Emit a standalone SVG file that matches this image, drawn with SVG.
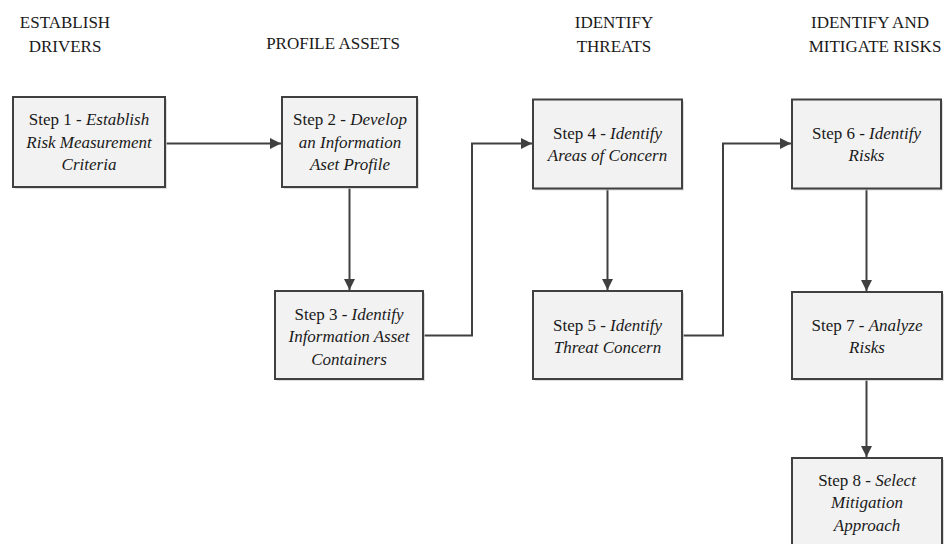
<svg xmlns="http://www.w3.org/2000/svg" width="947" height="544" viewBox="0 0 947 544" font-family="Liberation Serif, Times New Roman, serif">
<style>
  .bg{fill:#ffffff}
  .box{fill:#f2f2f2;stroke:#404040;stroke-width:2}
  .shadow{fill:#cfcfcf;opacity:0.7}
  text{font-size:17px;fill:#1a1a1a;text-anchor:middle}
  .i{font-style:italic}
  .conn{fill:none;stroke:#404040;stroke-width:2}
</style>
<defs>
  <marker id="arr" markerUnits="userSpaceOnUse" markerWidth="12" markerHeight="11" refX="11" refY="5.5" orient="auto">
    <path d="M0,0 L11,5.5 L0,11 z" fill="#404040"/>
  </marker>
</defs>
<rect class="bg" x="0" y="0" width="947" height="544"/>

<g id="headers">
  <text x="65" y="28">ESTABLISH</text>
  <text x="65" y="52">DRIVERS</text>
  <text x="333" y="49">PROFILE ASSETS</text>
  <text x="614" y="28">IDENTIFY</text>
  <text x="614" y="52">THREATS</text>
  <text x="870" y="28">IDENTIFY AND</text>
  <text x="875" y="52">MITIGATE RISKS</text>
</g>

<g id="connectors">
  <path class="conn" d="M165,143.5 H281" marker-end="url(#arr)"/>
  <path class="conn" d="M349.5,187 V290" marker-end="url(#arr)"/>
  <path class="conn" d="M423,335.5 H472 V143.5 H532" marker-end="url(#arr)"/>
  <path class="conn" d="M607.5,189 V290" marker-end="url(#arr)"/>
  <path class="conn" d="M682,335.5 H723 V143.5 H791" marker-end="url(#arr)"/>
  <path class="conn" d="M866.5,189 V291" marker-end="url(#arr)"/>
  <path class="conn" d="M866.5,379 V457" marker-end="url(#arr)"/>
</g>

<g id="step1">
  <rect class="shadow" x="15" y="99" width="152" height="90"/>
  <rect class="box" x="13" y="97" width="152" height="90"/>
  <text x="89" y="125">Step 1 - <tspan class="i">Establish</tspan></text>
  <text class="i" x="89" y="148">Risk Measurement</text>
  <text class="i" x="89" y="170">Criteria</text>
</g>

<g id="step2">
  <rect class="shadow" x="284" y="99" width="135" height="90"/>
  <rect class="box" x="282" y="97" width="135" height="90"/>
  <text x="350" y="125">Step 2 - <tspan class="i">Develop</tspan></text>
  <text class="i" x="350" y="148">an Information</text>
  <text class="i" x="350" y="170">Aset Profile</text>
</g>

<g id="step3">
  <rect class="shadow" x="277" y="293" width="148" height="88"/>
  <rect class="box" x="275" y="291" width="148" height="88"/>
  <text x="349" y="319.5">Step 3 - <tspan class="i">Identify</tspan></text>
  <text class="i" x="349" y="342">Information Asset</text>
  <text class="i" x="349" y="364.5">Containers</text>
</g>

<g id="step4">
  <rect class="shadow" x="535" y="101.5" width="149" height="89"/>
  <rect class="box" x="533" y="99.5" width="149" height="89"/>
  <text x="607.5" y="138.5">Step 4 - <tspan class="i">Identify</tspan></text>
  <text class="i" x="607.5" y="161">Areas of Concern</text>
</g>

<g id="step5">
  <rect class="shadow" x="535" y="293" width="149" height="88"/>
  <rect class="box" x="533" y="291" width="149" height="88"/>
  <text x="607.5" y="331">Step 5 - <tspan class="i">Identify</tspan></text>
  <text class="i" x="607.5" y="353">Threat Concern</text>
</g>

<g id="step6">
  <rect class="shadow" x="794" y="101.5" width="149" height="89"/>
  <rect class="box" x="792" y="99.5" width="149" height="89"/>
  <text x="866.5" y="138.5">Step 6 - <tspan class="i">Identify</tspan></text>
  <text class="i" x="866.5" y="161">Risks</text>
</g>

<g id="step7">
  <rect class="shadow" x="794" y="294" width="150" height="87"/>
  <rect class="box" x="792" y="292" width="150" height="87"/>
  <text x="867" y="330.5">Step 7 - <tspan class="i">Analyze</tspan></text>
  <text class="i" x="867" y="353">Risks</text>
</g>

<g id="step8">
  <rect class="shadow" x="794" y="460" width="150" height="88"/>
  <rect class="box" x="792" y="458" width="150" height="88"/>
  <text x="867" y="485.5">Step 8 - <tspan class="i">Select</tspan></text>
  <text class="i" x="867" y="508">Mitigation</text>
  <text class="i" x="867" y="530.5">Approach</text>
</g>
</svg>
